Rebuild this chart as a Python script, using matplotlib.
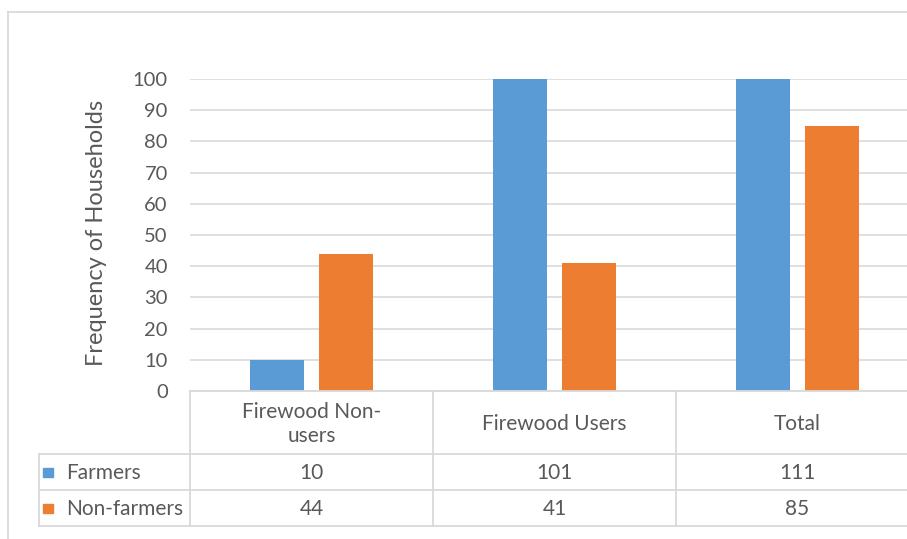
import matplotlib
matplotlib.use("Agg")
import matplotlib.pyplot as plt
from matplotlib.patches import Rectangle

plt.rcParams['font.family'] = ['Lato', 'DejaVu Sans']

categories = ["Firewood Non-\nusers", "Firewood Users", "Total"]
series_names = ["Farmers", "Non-farmers"]
farmers = [10, 101, 111]
non_farmers = [44, 41, 85]
y_ticks = [0, 10, 20, 30, 40, 50, 60, 70, 80, 90, 100]

BLUE = "#5B9BD5"
ORANGE = "#ED7D31"
TEXT = "#595959"
GRID = "#D9D9D9"

W, H = 907, 539
fig = plt.figure(figsize=(W / 100, H / 100), dpi=100)

# plot area in pixel terms (extends slightly past the right edge)
px_left, px_right, px_top, px_bottom = 190, 919, 79, 391
ax = fig.add_axes([px_left / W, (H - px_bottom) / H,
                   (px_right - px_left) / W, (px_bottom - px_top) / H])

x = list(range(len(categories)))
bw = 0.222
off = 0.142
ax.bar([i - off for i in x], farmers, width=bw, color=BLUE, zorder=3)
ax.bar([i + off for i in x], non_farmers, width=bw, color=ORANGE, zorder=3)

ax.set_xlim(-0.5, len(categories) - 0.5)
ax.set_ylim(0, 100)
ax.set_yticks(y_ticks)
ax.set_xticks([])
ax.tick_params(axis='y', length=0, pad=16, labelsize=14.5, labelcolor=TEXT)
ax.yaxis.grid(True, color=GRID, linewidth=1.2)
ax.set_axisbelow(True)
for s in ax.spines.values():
    s.set_visible(False)

# overlay for the data table and frame, in pixel coordinates (y downward)
ov = fig.add_axes([0, 0, 1, 1], zorder=5)
ov.set_xlim(0, W)
ov.set_ylim(H, 0)
ov.axis('off')
ov.patch.set_alpha(0)

fig.canvas.draw()
col_x = [ax.transData.transform((i, 0))[0] for i in x]
col_edges = [ax.transData.transform((i - 0.5, 0))[0] for i in x] + \
            [ax.transData.transform((x[-1] + 0.5, 0))[0]]

lw = 1.3
# outer chart frame
ov.plot([8, 8], [12, H], color=GRID, lw=lw)
ov.plot([8, W], [12, 12], color=GRID, lw=lw)

# table grid
y_head_top, y_r1, y_r2, y_r3 = 391, 454, 490, 526
tbl_left = 39
ov.plot([col_edges[0], W], [y_head_top, y_head_top], color=GRID, lw=lw)
for yy in (y_r1, y_r2, y_r3):
    ov.plot([tbl_left, W], [yy, yy], color=GRID, lw=lw)
ov.plot([tbl_left, tbl_left], [y_r1, y_r3], color=GRID, lw=lw)
for e in col_edges:
    ov.plot([e, e], [y_head_top, y_r3], color=GRID, lw=lw)

FS = 15
# header row
for cx, cat in zip(col_x, categories):
    ov.text(cx, (y_head_top + y_r1) / 2 + 1, cat, ha='center', va='center',
            fontsize=FS, color=TEXT, linespacing=1.25)

# series rows with legend keys
rows = [(series_names[0], farmers, BLUE, y_r1, y_r2),
        (series_names[1], non_farmers, ORANGE, y_r2, y_r3)]
for name, vals, col, ya, yb in rows:
    yc = (ya + yb) / 2
    ov.add_patch(Rectangle((43, yc - 4.5), 9.5, 9.5, color=col))
    ov.text(66, yc + 1, name, ha='left', va='center', fontsize=FS, color=TEXT)
    for cx, v in zip(col_x, vals):
        ov.text(cx, yc + 1, str(v), ha='center', va='center', fontsize=FS, color=TEXT)

# y axis title
ov.text(97, 233, "Frequency of Households", rotation=90, ha='center', va='center',
        fontsize=17, color=TEXT)

fig.savefig("out.png", dpi=100)
